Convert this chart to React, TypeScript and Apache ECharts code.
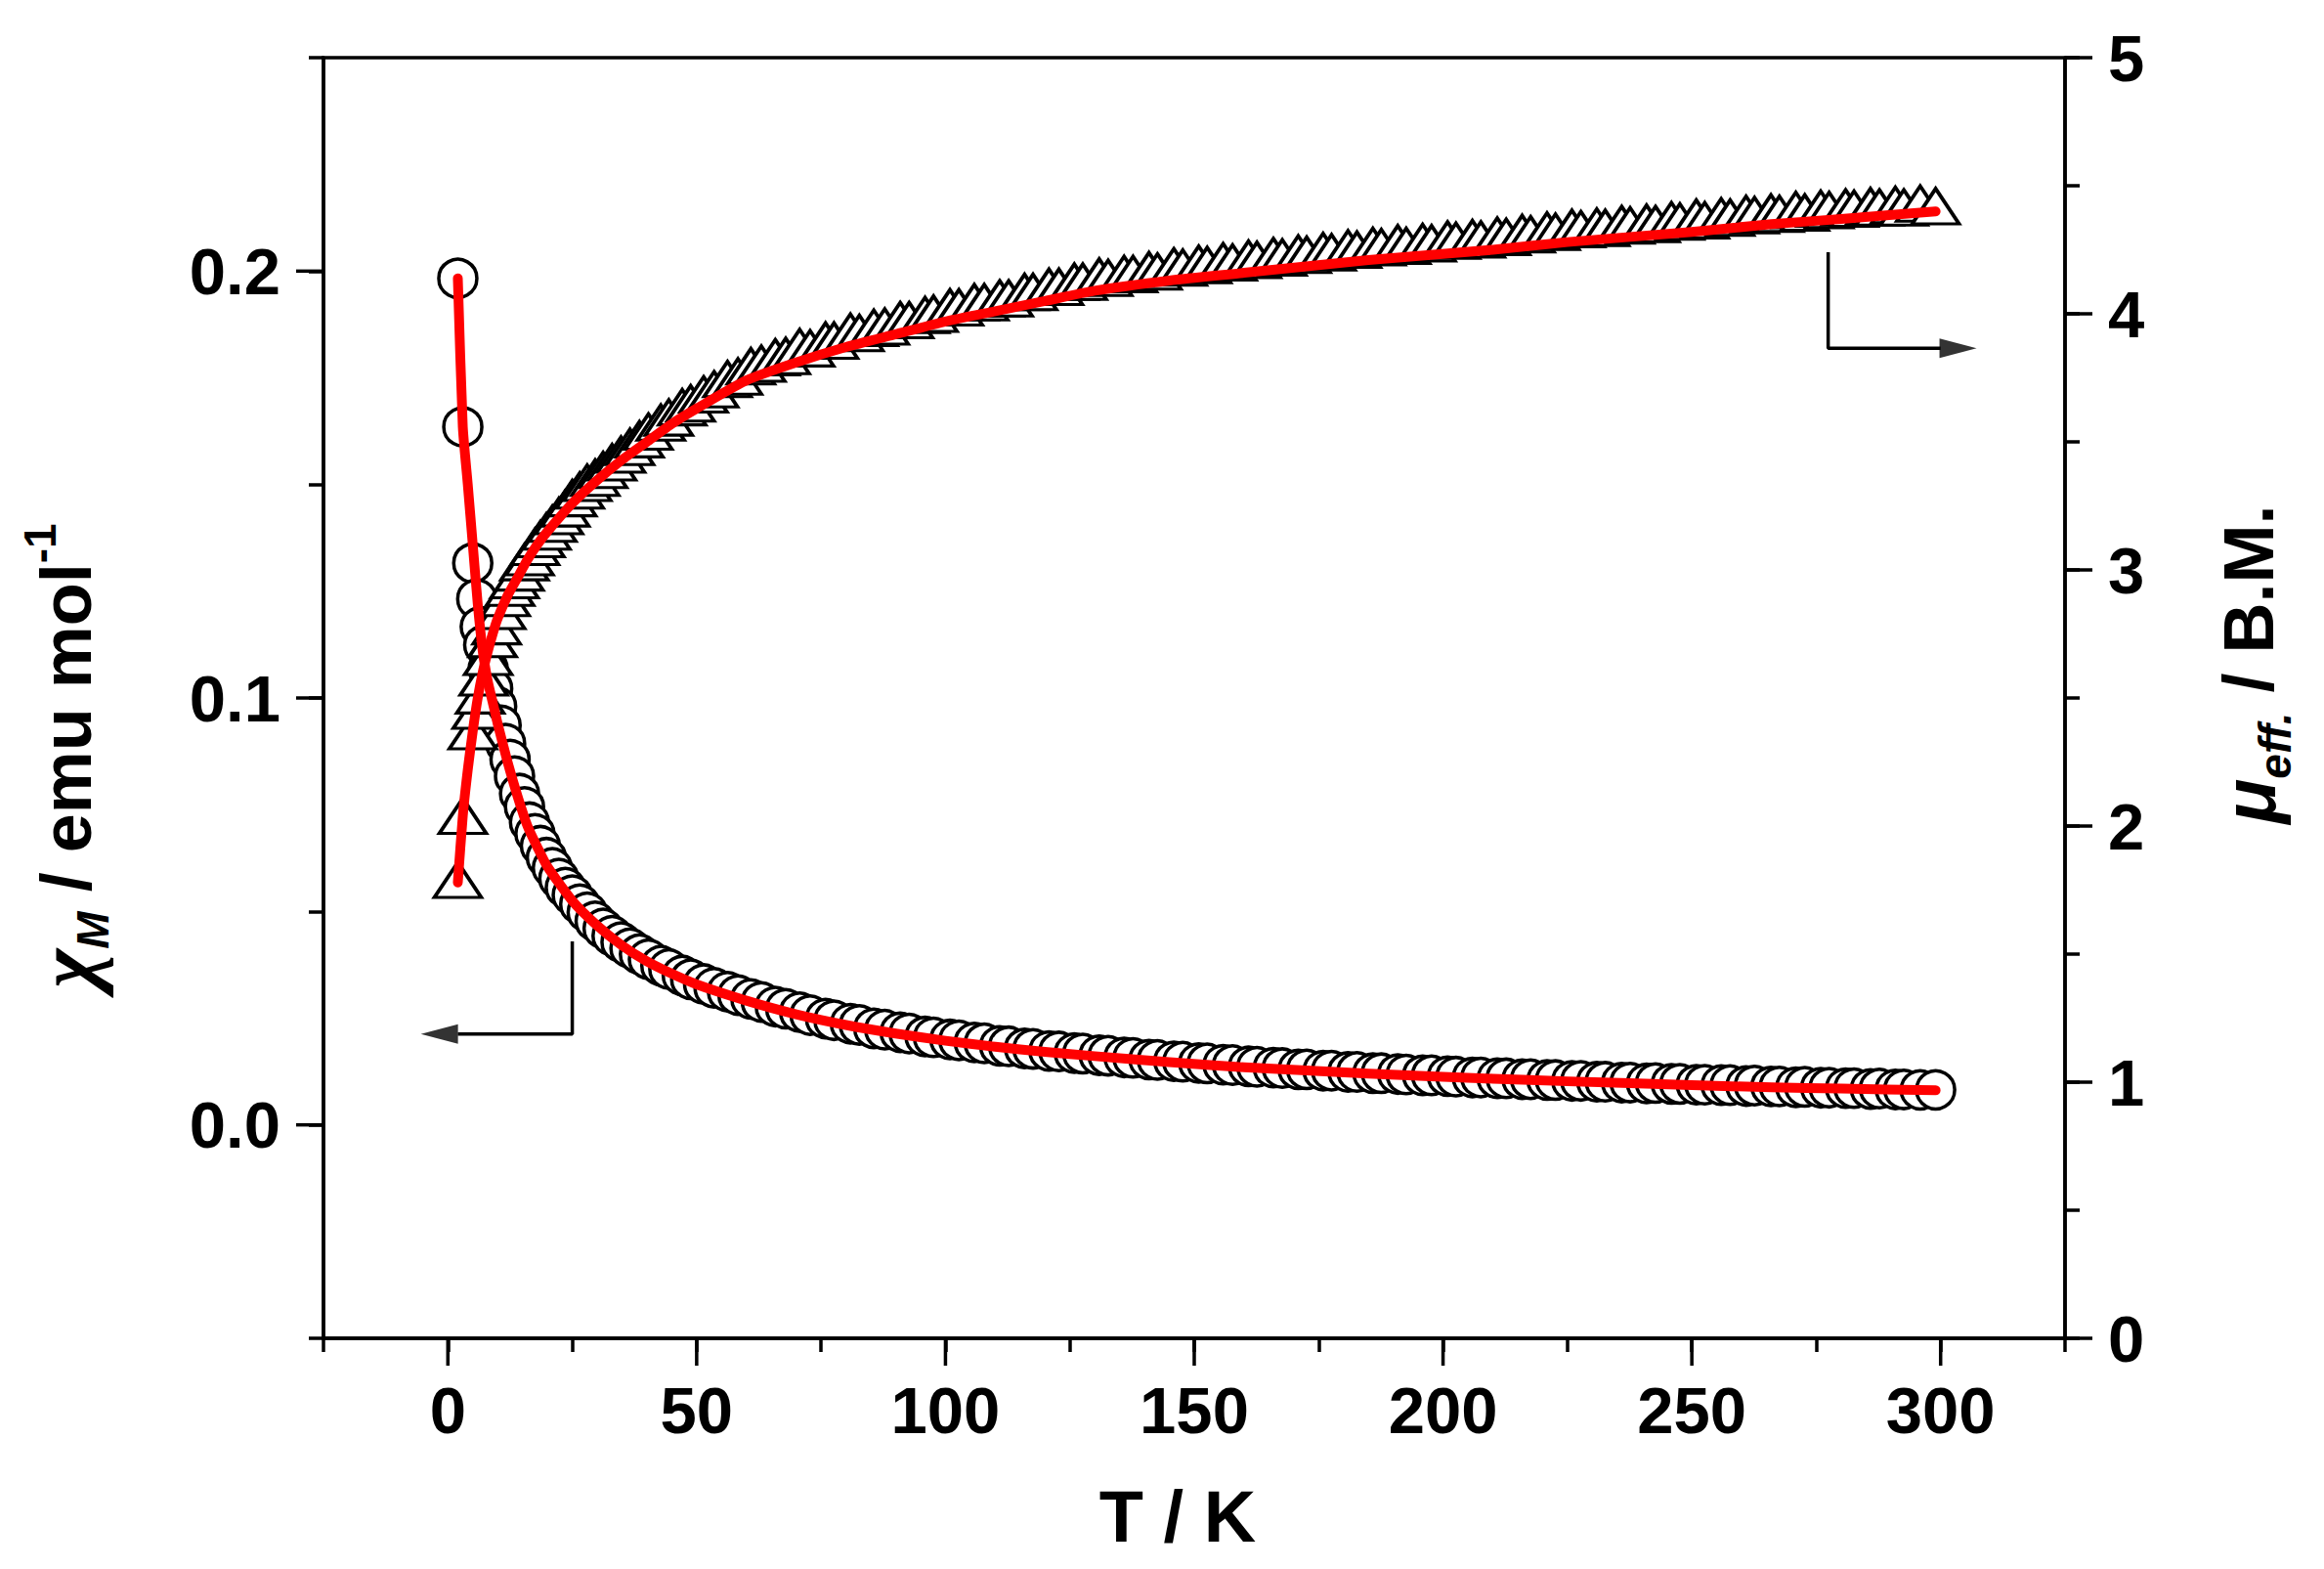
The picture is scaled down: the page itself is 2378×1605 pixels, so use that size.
import React, { useEffect, useRef } from "react";
import * as echarts from "echarts";

// Temperature (K) of the measured points
const temperature = [
  2, 3, 5, 5.8, 6.5, 7.2, 8.1, 9, 9.8, 10.7,
  11.6, 12.5, 13.4, 14.4, 15.4, 16.4, 17.5, 18.6, 19.8, 21,
  22.3, 23.6, 25, 26.5, 28, 29.6, 31.2, 33, 34.8, 36.6,
  38.5,
  40.3, 42.8, 44.4, 47.1, 48.8, 51.4, 53.5, 56.2, 58.3, 60.9,
  63.0, 65.8, 67.9, 70.7, 72.8, 75.9, 77.6, 80.9, 82.7, 85.6,
  87.8, 90.9, 92.7, 95.9, 97.6, 100.9, 102.7, 105.8, 107.8, 110.9,
  112.7, 115.9, 117.6, 120.8, 122.8, 125.9, 127.6, 130.9, 132.7, 135.9,
  137.7, 140.9, 142.6, 145.9, 147.7, 150.9, 152.6, 155.8, 157.7, 160.9,
  162.6, 165.9, 167.7, 170.9, 172.6, 175.9, 177.6, 180.9, 182.7, 185.9,
  187.6, 190.9, 192.6, 195.9, 197.7, 200.9, 202.6, 205.9, 207.6, 210.9,
  212.7, 215.9, 217.6, 220.9, 222.6, 225.9, 227.7, 230.9, 232.6, 235.9,
  237.6, 240.9, 242.7, 245.9, 247.6, 250.9, 252.6, 255.9, 257.7, 260.9,
  262.6, 265.9, 267.6, 270.9, 272.7, 275.9, 277.6, 280.9, 282.6, 285.9,
  287.7, 290.9, 292.6, 295.9, 299.0,
];

// chi_M (emu/mol), circles, left axis
const chiM = [
  0.1983, 0.1635, 0.1316, 0.1232, 0.1167, 0.1124, 0.1068, 0.1022, 0.098, 0.0936,
  0.0893, 0.0856, 0.0817, 0.0776, 0.0745, 0.0709, 0.0682, 0.0654, 0.0626, 0.0602,
  0.0577, 0.0556, 0.0538, 0.0517, 0.0498, 0.0477, 0.046, 0.0443, 0.0428, 0.0414,
  0.04,
  0.0388, 0.0373, 0.0365, 0.035, 0.0341, 0.033, 0.0321, 0.0312, 0.0304, 0.0295,
  0.0288, 0.0277, 0.0272, 0.0264, 0.0257, 0.0249, 0.0245, 0.0237, 0.0234, 0.0226,
  0.0223, 0.0217, 0.0214, 0.0207, 0.0205, 0.02, 0.0198, 0.0193, 0.0191, 0.0185,
  0.0184, 0.0179, 0.0178, 0.0173, 0.0172, 0.0168, 0.0167, 0.0163, 0.0162, 0.0158,
  0.0157, 0.0153, 0.0152, 0.0149, 0.0148, 0.0145, 0.0144, 0.0141, 0.014, 0.0137,
  0.0136, 0.0134, 0.0133, 0.013, 0.013, 0.0127, 0.0127, 0.0124, 0.0124, 0.0121,
  0.0121, 0.0119, 0.0118, 0.0116, 0.0116, 0.0114, 0.0113, 0.0111, 0.0111, 0.0109,
  0.0109, 0.0107, 0.0107, 0.0105, 0.0105, 0.0103, 0.0103, 0.0101, 0.0101, 0.0099,
  0.0099, 0.0097, 0.0098, 0.0096, 0.0096, 0.0094, 0.0094, 0.0093, 0.0093, 0.0091,
  0.0092, 0.009, 0.009, 0.0088, 0.0089, 0.0087, 0.0087, 0.0086, 0.0086, 0.0084,
  0.0085, 0.0083, 0.0083, 0.0082, 0.0082,
];

// mu_eff (B.M.), triangles, right axis
const muEff = [
  1.79, 2.04, 2.37, 2.45, 2.51, 2.58, 2.66, 2.73, 2.78, 2.84,
  2.89, 2.93, 2.96, 2.99, 3.03, 3.05, 3.09, 3.12, 3.15, 3.18,
  3.21, 3.24, 3.28, 3.31, 3.34, 3.36, 3.39, 3.42, 3.45, 3.48,
  3.51,
  3.54, 3.575, 3.595, 3.635, 3.65, 3.685, 3.705, 3.745, 3.755, 3.795,
  3.805, 3.83, 3.835, 3.87, 3.865, 3.895, 3.895, 3.93, 3.925, 3.945,
  3.95, 3.975, 3.975, 3.995, 4.0, 4.025, 4.025, 4.045, 4.045, 4.06,
  4.06, 4.085, 4.085, 4.105, 4.105, 4.125, 4.125, 4.145, 4.14, 4.155,
  4.155, 4.17, 4.165, 4.185, 4.18, 4.195, 4.19, 4.205, 4.2, 4.215,
  4.21, 4.225, 4.22, 4.235, 4.23, 4.245, 4.24, 4.255, 4.25, 4.265,
  4.26, 4.275, 4.265, 4.28, 4.275, 4.29, 4.285, 4.295, 4.29, 4.305,
  4.3, 4.315, 4.31, 4.325, 4.32, 4.335, 4.33, 4.34, 4.335, 4.35,
  4.345, 4.355, 4.35, 4.365, 4.36, 4.375, 4.365, 4.38, 4.375, 4.39,
  4.385, 4.395, 4.39, 4.405, 4.395, 4.41, 4.405, 4.415, 4.41, 4.42,
  4.415, 4.425, 4.415, 4.43, 4.42,
];

// Fitted curves (red)
const fitT = [2, 3, 4, 5, 6, 7, 8, 9, 10, 12, 14, 16, 18, 20, 25, 30, 35, 40, 45, 50, 60, 70, 80, 90, 100, 110, 120, 130, 145, 160, 185, 210, 225, 250, 266, 280, 299];
const chiFit = [0.1983, 0.1635, 0.15, 0.136, 0.122, 0.111, 0.104, 0.099, 0.094, 0.085, 0.077, 0.07, 0.065, 0.0605, 0.0525, 0.0467, 0.042, 0.0383, 0.0354, 0.0329, 0.0291, 0.0259, 0.0234, 0.0214, 0.0197, 0.0183, 0.0171, 0.0161, 0.0147, 0.0135, 0.012, 0.0108, 0.0102, 0.0093, 0.0088, 0.0085, 0.0081];
const muFit = [1.78, 2.04, 2.22, 2.37, 2.5, 2.6, 2.68, 2.75, 2.81, 2.9, 2.97, 3.04, 3.1, 3.15, 3.26, 3.35, 3.43, 3.5, 3.57, 3.63, 3.74, 3.81, 3.87, 3.92, 3.97, 4.01, 4.05, 4.09, 4.13, 4.16, 4.21, 4.25, 4.28, 4.32, 4.35, 4.37, 4.4];

// Axis ranges and major tick values
const xRange = [-25, 325];
const chiRange = [-0.05, 0.25];
const muRange = [0, 5];
const xMajorTicks = [0, 50, 100, 150, 200, 250, 300];
const leftMajorTicks = [0, 0.1, 0.2];
const rightMajorTicks = [0, 1, 2, 3, 4, 5];

// Axis-pointer arrows (data coordinates)
const chiArrow = [[25, 0.043], [25, 0.0213], [2, 0.0213]];
const chiArrowHead = [[-1.7, 0.0213]];
const muArrow = [[277.4, 4.24], [277.4, 3.865], [300, 3.865]];
const muArrowHead = [[303.5, 3.865]];

const FONT = '"Liberation Sans", Arial, Helvetica, sans-serif';
const SERIF = '"Liberation Serif", "Times New Roman", serif';

const MAJOR_LEN = 28;
const LINE_W = 3.5;

export default function App() {
  const ref = useRef<HTMLDivElement>(null);

  useEffect(() => {
    document.body.style.margin = "0";
    const chart = echarts.init(ref.current as HTMLDivElement, null, { renderer: "svg" });

    const axisLine = { show: true, onZero: false, lineStyle: { color: "#000", width: LINE_W } };
    const tickLine = { color: "#000", width: LINE_W };
    const labelStyle = { color: "#000", fontFamily: FONT, fontWeight: "bold" as const, fontSize: 67 };
    const titleBase = { color: "#000", fontFamily: FONT, fontWeight: "bold" as const, fontSize: 72 };

    // Major (long) ticks drawn through the axes' own scales
    const majorTickSeries = (
      data: number[][],
      yAxisIndex: number,
      dir: "down" | "left" | "right"
    ) => ({
      type: "custom",
      xAxisIndex: 0,
      yAxisIndex,
      data,
      silent: true,
      clip: false,
      z: 5,
      renderItem: (_params: any, api: any) => {
        const p = api.coord([api.value(0), api.value(1)]);
        let x2 = p[0];
        let y2 = p[1];
        if (dir === "down") y2 = p[1] + MAJOR_LEN;
        if (dir === "left") x2 = p[0] - MAJOR_LEN;
        if (dir === "right") x2 = p[0] + MAJOR_LEN;
        return {
          type: "line",
          shape: { x1: p[0], y1: p[1], x2, y2 },
          style: { stroke: "#000", lineWidth: LINE_W },
        };
      },
    });

    const option: any = {
      animation: false,
      backgroundColor: "#fff",
      grid: {
        left: 331,
        top: 59,
        width: 1782,
        height: 1310,
        show: true,
        borderColor: "#000",
        borderWidth: LINE_W,
        backgroundColor: "transparent",
        containLabel: false,
      },
      xAxis: {
        type: "value",
        position: "bottom",
        min: xRange[0],
        max: xRange[1],
        interval: 25,
        axisLine,
        axisTick: { show: true, inside: false, length: 14, lineStyle: tickLine },
        axisLabel: {
          ...labelStyle,
          margin: 40,
          formatter: (v: number) => {
            const k = Math.round(v);
            return k % 50 === 0 && k >= 0 && k <= 300 ? String(k) : "";
          },
        },
        splitLine: { show: false },
        name: "T / K",
        nameLocation: "middle",
        nameGap: 145,
        nameTextStyle: { ...titleBase, fontSize: 74, padding: [0, 34, 0, 0] },
      },
      yAxis: [
        {
          type: "value",
          position: "left",
          min: chiRange[0],
          max: chiRange[1],
          interval: 0.05,
          axisLine,
          axisTick: { show: true, inside: false, length: 15, lineStyle: tickLine },
          axisLabel: {
            ...labelStyle,
            margin: 44,
            formatter: (v: number) => {
              const k = Math.round(v * 100);
              return k % 10 === 0 && k >= 0 && k <= 20 ? (k / 100).toFixed(1) : "";
            },
          },
          splitLine: { show: false },
          name: "{chi|χ}{sub|M}{t| / emu mol}{sup|-1}",
          nameLocation: "middle",
          nameRotate: 90,
          nameGap: 213,
          nameTextStyle: {
            ...titleBase,
            padding: [0, 118, 0, 0],
            rich: {
              chi: { fontFamily: SERIF, fontSize: 86, fontStyle: "italic", fontWeight: "bold", color: "#000", lineHeight: 100 },
              sub: { fontFamily: FONT, fontSize: 46, fontStyle: "italic", fontWeight: "bold", color: "#000", lineHeight: 46, verticalAlign: "bottom" },
              t: { fontFamily: FONT, fontSize: 72, fontWeight: "bold", color: "#000", lineHeight: 100 },
              sup: { fontFamily: FONT, fontSize: 46, fontWeight: "bold", color: "#000", lineHeight: 46, verticalAlign: "top" },
            },
          },
        },
        {
          type: "value",
          position: "right",
          min: muRange[0],
          max: muRange[1],
          interval: 0.5,
          axisLine,
          axisTick: { show: true, inside: false, length: 15, lineStyle: tickLine },
          axisLabel: {
            ...labelStyle,
            margin: 44,
            formatter: (v: number) => {
              const k = Math.round(v * 10);
              return k % 10 === 0 ? String(k / 10) : "";
            },
          },
          splitLine: { show: false },
          name: "{mu|μ}{sub|eff.}{t| / B.M.}",
          nameLocation: "middle",
          nameRotate: 90,
          nameGap: 138,
          nameTextStyle: {
            ...titleBase,
            padding: [0, 0, 0, 69],
            rich: {
              mu: { fontFamily: FONT, fontSize: 76, fontStyle: "italic", fontWeight: "bold", color: "#000", lineHeight: 100 },
              sub: { fontFamily: FONT, fontSize: 46, fontStyle: "italic", fontWeight: "bold", color: "#000", lineHeight: 46, verticalAlign: "bottom" },
              t: { fontFamily: FONT, fontSize: 72, fontWeight: "bold", color: "#000", lineHeight: 100 },
            },
          },
        },
      ],
      series: [
        {
          type: "scatter",
          name: "chiM",
          xAxisIndex: 0,
          yAxisIndex: 0,
          data: temperature.map((t, i) => [t, chiM[i]]),
          symbol: "circle",
          symbolSize: 39,
          itemStyle: { color: "#fff", borderColor: "#000", borderWidth: LINE_W, opacity: 1 },
          silent: true,
          z: 2,
        },
        {
          type: "scatter",
          name: "muEff",
          xAxisIndex: 0,
          yAxisIndex: 1,
          data: temperature.map((t, i) => [t, muEff[i]]),
          symbol: "triangle",
          symbolSize: [48, 36],
          itemStyle: { color: "#fff", borderColor: "#000", borderWidth: LINE_W, borderJoin: "miter", opacity: 1 },
          silent: true,
          z: 2,
        },
        {
          type: "line",
          name: "chiFit",
          xAxisIndex: 0,
          yAxisIndex: 0,
          data: fitT.map((t, i) => [t, chiFit[i]]),
          symbol: "none",
          showSymbol: false,
          smooth: 0.2,
          lineStyle: { color: "#ff0000", width: 10, cap: "round", join: "round" },
          silent: true,
          z: 3,
        },
        {
          type: "line",
          name: "muFit",
          xAxisIndex: 0,
          yAxisIndex: 1,
          data: fitT.map((t, i) => [t, muFit[i]]),
          symbol: "none",
          showSymbol: false,
          smooth: 0.2,
          lineStyle: { color: "#ff0000", width: 10, cap: "round", join: "round" },
          silent: true,
          z: 3,
        },
        {
          type: "line",
          xAxisIndex: 0,
          yAxisIndex: 0,
          data: chiArrow,
          symbol: "none",
          lineStyle: { color: "#000", width: LINE_W },
          silent: true,
          z: 4,
        },
        {
          type: "scatter",
          xAxisIndex: 0,
          yAxisIndex: 0,
          data: chiArrowHead,
          symbol: "triangle",
          symbolSize: [20, 38],
          symbolRotate: 90,
          itemStyle: { color: "#000" },
          silent: true,
          z: 4,
        },
        {
          type: "line",
          xAxisIndex: 0,
          yAxisIndex: 1,
          data: muArrow,
          symbol: "none",
          lineStyle: { color: "#000", width: LINE_W },
          silent: true,
          z: 4,
        },
        {
          type: "scatter",
          xAxisIndex: 0,
          yAxisIndex: 1,
          data: muArrowHead,
          symbol: "triangle",
          symbolSize: [20, 38],
          symbolRotate: -90,
          itemStyle: { color: "#000" },
          silent: true,
          z: 4,
        },
        majorTickSeries(xMajorTicks.map((v) => [v, chiRange[0]]), 0, "down"),
        majorTickSeries(leftMajorTicks.map((v) => [xRange[0], v]), 0, "left"),
        majorTickSeries(rightMajorTicks.map((v) => [xRange[1], v]), 1, "right"),
      ],
    };

    chart.setOption(option);
    return () => {
      chart.dispose();
    };
  }, []);

  return <div ref={ref} style={{ width: 2378, height: 1605, background: "#fff" }} />;
}
